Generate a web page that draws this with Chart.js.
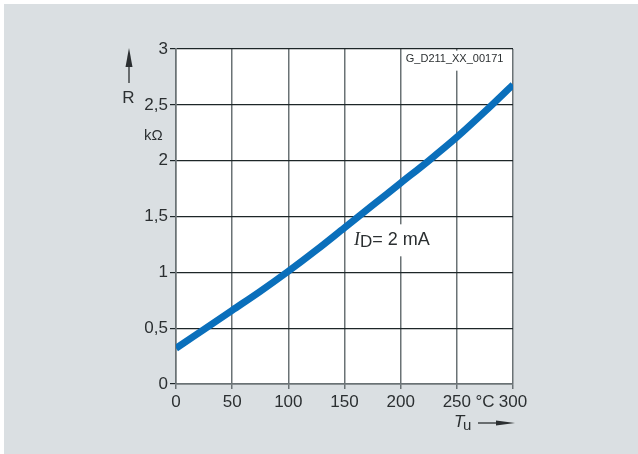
<!DOCTYPE html>
<html>
<head>
<meta charset="utf-8">
<script src="https://cdn.jsdelivr.net/npm/chart.js@4.4.1/dist/chart.umd.min.js"></script>
<style>
html,body{margin:0;padding:0;background:#fff;}
#wrap{position:absolute;left:0;top:0;width:638px;height:454px;}
</style>
</head>
<body>
<div id="wrap"><canvas id="c" width="638" height="454"></canvas></div>
<script>
// Data
const temperatures = [0, 25, 50, 75, 100, 125, 150, 175, 200, 225, 250, 275, 300];
const resistance  = [0.32, 0.49, 0.66, 0.83, 1.01, 1.20, 1.40, 1.60, 1.80, 2.00, 2.21, 2.44, 2.68];
const xTickValues = [0, 50, 100, 150, 200, 250, 300];
const xTickLabels = ['0', '50', '100', '150', '200', '250', '300'];
const yTickValues = [0, 0.5, 1, 1.5, 2, 2.5, 3];
const yTickLabels = ['0', '0,5', '1', '1,5', '2', '2,5', '3'];
const seriesLabel = 'I_D = 2 mA';

const SANS = '"Liberation Sans", Arial, Helvetica, sans-serif';
const SERIF = '"Liberation Serif", "Times New Roman", serif';
const TEXT = '#2b2f31';

const points = temperatures.map((t, i) => ({x: t, y: resistance[i]}));

const decor = {
  id: 'decor',
  beforeDraw(chart) {
    const ctx = chart.ctx;
    const a = chart.chartArea;
    ctx.save();
    ctx.fillStyle = '#ffffff';
    ctx.fillRect(0, 0, chart.width, chart.height);
    ctx.fillStyle = '#dadfe2';
    ctx.fillRect(4, 4, chart.width - 4, chart.height - 4);
    ctx.fillStyle = '#ffffff';
    ctx.fillRect(a.left, a.top, a.right - a.left, a.bottom - a.top);
    ctx.restore();
  },
  beforeDatasetsDraw(chart) {
    const ctx = chart.ctx;
    const xs = chart.scales.x, ys = chart.scales.y;
    ctx.save();
    ctx.fillStyle = '#ffffff';
    ctx.fillRect(xs.getPixelForValue(203), ys.getPixelForValue(2.985), 100, 20);
    ctx.fillRect(xs.getPixelForValue(155), ys.getPixelForValue(1.43), 80, 32);
    ctx.restore();
  },
  afterDraw(chart) {
    const ctx = chart.ctx;
    const xs = chart.scales.x, ys = chart.scales.y;
    const a = chart.chartArea;
    ctx.save();
    ctx.fillStyle = TEXT;
    ctx.strokeStyle = TEXT;
    ctx.textBaseline = 'alphabetic';

    ctx.font = '11px ' + SANS;
    ctx.textAlign = 'center';
    ctx.fillText('G_D211_XX_00171', xs.getPixelForValue(248), a.top + 13);

    ctx.lineWidth = 1.3;
    ctx.beginPath();
    ctx.moveTo(129, 83); ctx.lineTo(129, 62);
    ctx.stroke();
    ctx.beginPath();
    ctx.moveTo(129, 48); ctx.lineTo(125.5, 67); ctx.lineTo(132.5, 67); ctx.closePath();
    ctx.fill();
    ctx.font = '17px ' + SANS;
    ctx.textAlign = 'center';
    ctx.fillText('R', 128.5, 103);
    ctx.font = '15px ' + SANS;
    ctx.textAlign = 'left';
    ctx.fillText('kΩ', 144, 140);

    ctx.font = '17px ' + SANS;
    ctx.textAlign = 'center';
    ctx.fillText('°C', xs.getPixelForValue(275), 407);

    ctx.textAlign = 'left';
    ctx.font = 'italic 17px ' + SANS;
    ctx.fillText('T', 454, 427);
    ctx.font = '15px ' + SANS;
    ctx.fillText('u', 463, 430);
    ctx.lineWidth = 1.3;
    ctx.beginPath();
    ctx.moveTo(478, 423); ctx.lineTo(500, 423);
    ctx.stroke();
    ctx.beginPath();
    ctx.moveTo(515, 423); ctx.lineTo(496, 420.5); ctx.lineTo(496, 425.5); ctx.closePath();
    ctx.fill();

    let x = 354, base = 245;
    ctx.font = 'italic 18px ' + SERIF;
    ctx.fillText('I', x, base);
    x += ctx.measureText('I').width;
    ctx.font = '17px ' + SANS;
    ctx.fillText('D', x, base + 2);
    x += ctx.measureText('D').width;
    ctx.font = '18px ' + SANS;
    ctx.fillText('= 2 mA', x, base);
    ctx.restore();
  }
};

new Chart(document.getElementById('c'), {
  type: 'line',
  data: {
    datasets: [{
      label: seriesLabel,
      data: points,
      borderColor: '#0a6fbb',
      borderWidth: 7,
      borderCapStyle: 'butt',
      pointRadius: 0,
      cubicInterpolationMode: 'monotone',
      fill: false
    }]
  },
  options: {
    responsive: false,
    devicePixelRatio: 1,
    animation: false,
    layout: {padding: {left: 0, top: 49, right: 125, bottom: 0}},
    plugins: {legend: {display: false}, tooltip: {enabled: false}},
    scales: {
      x: {
        type: 'linear', min: 0, max: 300,
        afterFit(s) { s.height = 70; },
        afterBuildTicks(s) { s.ticks = xTickValues.map(v => ({value: v})); },
        ticks: {
          font: {family: SANS, size: 17}, color: TEXT, padding: 3, maxRotation: 0,
          callback: (v) => xTickLabels[xTickValues.indexOf(v)] ?? ''
        },
        grid: {color: '#6a7275', lineWidth: 1.5, tickLength: 5},
        border: {color: '#6a7275', width: 1.5}
      },
      y: {
        type: 'linear', min: 0, max: 3,
        afterFit(s) { s.width = 176; },
        afterBuildTicks(s) { s.ticks = yTickValues.map(v => ({value: v})); },
        ticks: {
          font: {family: SANS, size: 17}, color: TEXT, padding: 2,
          callback: (v) => yTickLabels[yTickValues.indexOf(v)] ?? ''
        },
        grid: {color: '#1d2628', lineWidth: 1.2, tickLength: 6},
        border: {color: '#6a7275', width: 1.5}
      }
    }
  },
  plugins: [decor]
});
</script>
</body>
</html>
